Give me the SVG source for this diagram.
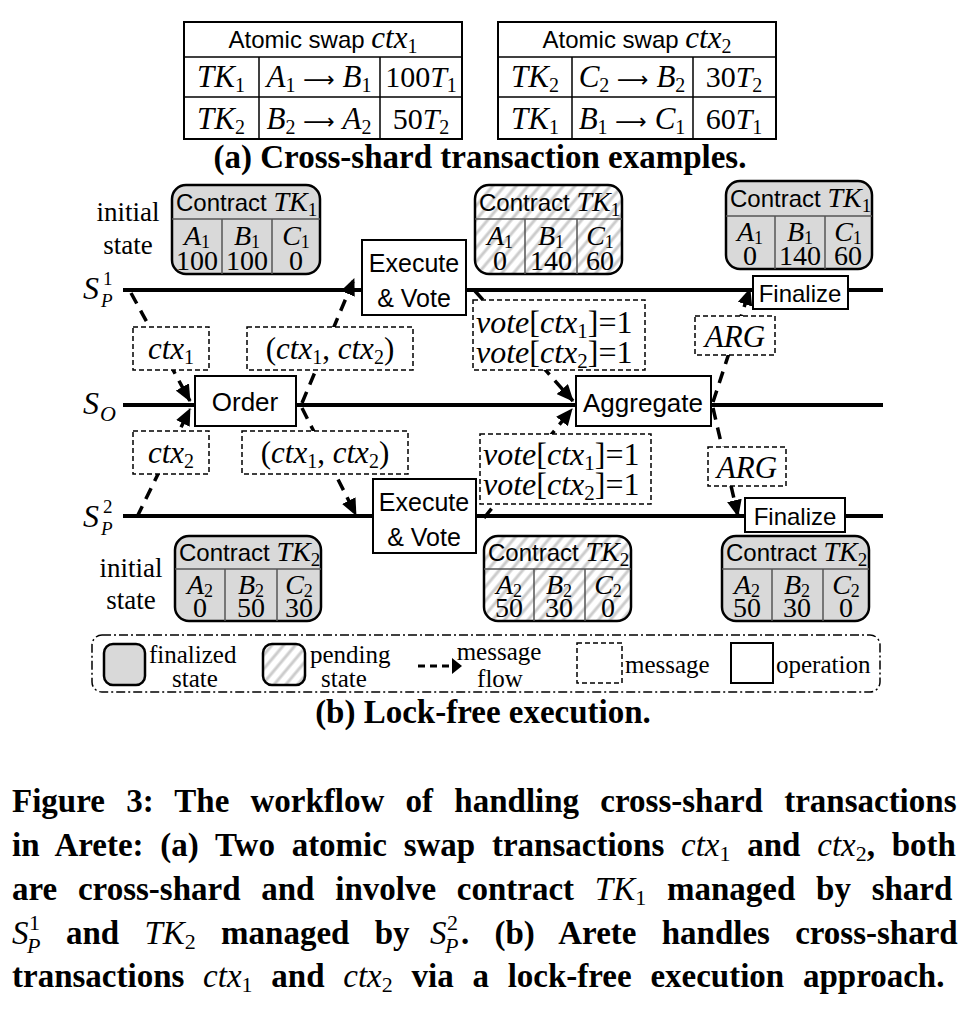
<svg xmlns="http://www.w3.org/2000/svg" width="978" height="1014" viewBox="0 0 978 1014">
<defs>
<pattern id="hatch" patternUnits="userSpaceOnUse" width="9" height="9" patternTransform="rotate(40)">
<rect width="9" height="9" fill="#ffffff"/>
<line x1="2" y1="0" x2="2" y2="9" stroke="#cccccc" stroke-width="3"/>
</pattern>
<marker id="arr" markerUnits="userSpaceOnUse" markerWidth="17" markerHeight="15" refX="16" refY="7.5" orient="auto">
<path d="M0,0 L17,7.5 L0,15 z" fill="#000"/>
</marker>
</defs>
<style>
.sans{font-family:"Liberation Sans",Arial,sans-serif;}
.serif{font-family:"Liberation Serif","Times New Roman",serif;}
.m{font-family:"Liberation Serif","Times New Roman",serif;font-style:italic;}
.up{font-family:"Liberation Serif","Times New Roman",serif;font-style:normal;}
.arrow{font-family:"DejaVu Sans",sans-serif;font-style:normal;}
.tbl{fill:#fff;stroke:#000;stroke-width:2;}
.grid{stroke:#000;stroke-width:1.5;fill:none;}
.fin{fill:#d9d9d9;stroke:#000;stroke-width:2.5;}
.pend{fill:url(#hatch);stroke:#000;stroke-width:2.5;}
.cdiv{stroke:#555;stroke-width:1.5;fill:none;}
.op{fill:#fff;stroke:#000;stroke-width:2;}
.msg{fill:#fff;stroke:#000;stroke-width:1.5;stroke-dasharray:5 3;}
.lane{stroke:#000;stroke-width:4;}
.flow{stroke:#000;stroke-width:3.5;stroke-dasharray:12 8;fill:none;marker-end:url(#arr);}
.cap{font-family:"Liberation Serif","Times New Roman",serif;font-weight:bold;font-size:33px;}
.capm{font-family:"Liberation Serif","Times New Roman",serif;font-style:italic;font-weight:normal;}
.capsub{font-family:"Liberation Serif","Times New Roman",serif;font-style:normal;font-weight:normal;font-size:22px;}
.lg{font-family:"Liberation Serif","Times New Roman",serif;font-size:25px;}
.cv{font-family:"Liberation Serif","Times New Roman",serif;font-size:28px;text-anchor:middle;}
.cl{font-family:"Liberation Serif","Times New Roman",serif;font-style:italic;font-size:28px;text-anchor:middle;}
</style>
<rect width="978" height="1014" fill="#fff"/>

<!-- Table ctx1 -->
<g id="table-ctx1">
<rect class="tbl" x="184" y="22" width="278" height="117"/>
<line class="grid" x1="184" y1="57" x2="462" y2="57"/>
<line class="grid" x1="184" y1="97" x2="462" y2="97"/>
<line class="grid" x1="259" y1="57" x2="259" y2="139"/>
<line class="grid" x1="380" y1="57" x2="380" y2="139"/>
<text x="323" y="48" text-anchor="middle" font-size="24" class="sans">Atomic swap <tspan class="m" font-size="31">ctx</tspan><tspan class="up" font-size="20" dy="5">1</tspan></text>
<text x="221" y="87" text-anchor="middle" font-size="31" class="m">TK<tspan class="up" font-size="20" dy="5">1</tspan></text>
<text x="319" y="87" text-anchor="middle" font-size="31" class="m">A<tspan class="up" font-size="20" dy="5">1</tspan><tspan class="up" dy="-5"> </tspan><tspan class="arrow" font-size="22">⟶</tspan><tspan class="up"> </tspan>B<tspan class="up" font-size="20" dy="5">1</tspan></text>
<text x="421" y="87" text-anchor="middle" font-size="30" class="up">100<tspan class="m">T</tspan><tspan font-size="20" dy="5">1</tspan></text>
<text x="221" y="129" text-anchor="middle" font-size="31" class="m">TK<tspan class="up" font-size="20" dy="5">2</tspan></text>
<text x="319" y="129" text-anchor="middle" font-size="31" class="m">B<tspan class="up" font-size="20" dy="5">2</tspan><tspan class="up" dy="-5"> </tspan><tspan class="arrow" font-size="22">⟶</tspan><tspan class="up"> </tspan>A<tspan class="up" font-size="20" dy="5">2</tspan></text>
<text x="421" y="129" text-anchor="middle" font-size="30" class="up">50<tspan class="m">T</tspan><tspan font-size="20" dy="5">2</tspan></text>
</g>

<!-- Table ctx2 -->
<g id="table-ctx2">
<rect class="tbl" x="498" y="22" width="278" height="117"/>
<line class="grid" x1="498" y1="57" x2="776" y2="57"/>
<line class="grid" x1="498" y1="97" x2="776" y2="97"/>
<line class="grid" x1="572" y1="57" x2="572" y2="139"/>
<line class="grid" x1="693" y1="57" x2="693" y2="139"/>
<text x="637" y="48" text-anchor="middle" font-size="24" class="sans">Atomic swap <tspan class="m" font-size="31">ctx</tspan><tspan class="up" font-size="20" dy="5">2</tspan></text>
<text x="535" y="87" text-anchor="middle" font-size="31" class="m">TK<tspan class="up" font-size="20" dy="5">2</tspan></text>
<text x="632" y="87" text-anchor="middle" font-size="31" class="m">C<tspan class="up" font-size="20" dy="5">2</tspan><tspan class="up" dy="-5"> </tspan><tspan class="arrow" font-size="22">⟶</tspan><tspan class="up"> </tspan>B<tspan class="up" font-size="20" dy="5">2</tspan></text>
<text x="734" y="87" text-anchor="middle" font-size="30" class="up">30<tspan class="m">T</tspan><tspan font-size="20" dy="5">2</tspan></text>
<text x="535" y="129" text-anchor="middle" font-size="31" class="m">TK<tspan class="up" font-size="20" dy="5">1</tspan></text>
<text x="632" y="129" text-anchor="middle" font-size="31" class="m">B<tspan class="up" font-size="20" dy="5">1</tspan><tspan class="up" dy="-5"> </tspan><tspan class="arrow" font-size="22">⟶</tspan><tspan class="up"> </tspan>C<tspan class="up" font-size="20" dy="5">1</tspan></text>
<text x="734" y="129" text-anchor="middle" font-size="30" class="up">60<tspan class="m">T</tspan><tspan font-size="20" dy="5">1</tspan></text>
</g>

<text id="caption-a" x="480" y="168" text-anchor="middle" class="cap" font-size="32">(a) Cross-shard transaction examples.</text>

<!-- Lanes -->
<g id="lanes">
<line class="lane" x1="123" y1="290" x2="883" y2="290"/>
<line class="lane" x1="123" y1="405" x2="883" y2="405"/>
<line class="lane" x1="123" y1="516" x2="883" y2="516"/>
<text x="83" y="299" font-size="32" class="m">S</text>
<text x="103" y="285" font-size="19" class="up">1</text>
<text x="101" y="307" font-size="19" class="m">P</text>
<text x="83" y="414" font-size="32" class="m">S</text>
<text x="100" y="421" font-size="22" class="m">O</text>
<text x="83" y="527" font-size="32" class="m">S</text>
<text x="103" y="513" font-size="19" class="up">2</text>
<text x="101" y="535" font-size="19" class="m">P</text>
<text x="128" y="221" text-anchor="middle" font-size="27" class="serif">initial</text>
<text x="128" y="254" text-anchor="middle" font-size="27" class="serif">state</text>
<text x="131" y="577" text-anchor="middle" font-size="27" class="serif">initial</text>
<text x="131" y="609" text-anchor="middle" font-size="27" class="serif">state</text>
</g>

<!-- Connectors -->
<g id="connectors">
<line class="flow" x1="131" y1="293" x2="190" y2="401"/>
<line class="flow" x1="137" y1="517" x2="190" y2="409"/>
<line class="flow" x1="302" y1="403" x2="354" y2="279"/>
<line class="flow" x1="302" y1="408" x2="356" y2="515"/>
<line class="flow" x1="475" y1="291" x2="573" y2="401"/>
<line class="flow" x1="484" y1="518" x2="572" y2="409"/>
<line class="flow" x1="713" y1="402" x2="750" y2="289"/>
<line class="flow" x1="713" y1="408" x2="738" y2="516"/>
</g>

<!-- Contract boxes -->
<g id="tk1-initial">
<rect class="fin" x="172" y="185" width="148" height="89" rx="14"/>
<line class="cdiv" x1="172" y1="219" x2="320" y2="219"/>
<line class="cdiv" x1="222" y1="219" x2="222" y2="274"/>
<line class="cdiv" x1="272" y1="219" x2="272" y2="274"/>
<text x="176" y="211" font-size="24" class="sans">Contract <tspan class="m" font-size="28">TK</tspan><tspan class="up" font-size="19" dy="5">1</tspan></text>
<text x="197" y="245" class="cl">A<tspan class="up" font-size="18" dy="3">1</tspan></text>
<text x="247" y="245" class="cl">B<tspan class="up" font-size="18" dy="3">1</tspan></text>
<text x="296" y="245" class="cl">C<tspan class="up" font-size="18" dy="3">1</tspan></text>
<text x="197" y="270" class="cv">100</text>
<text x="247" y="270" class="cv">100</text>
<text x="296" y="270" class="cv">0</text>
</g>

<g id="tk1-pending">
<rect class="pend" x="475" y="185" width="147" height="89" rx="14"/>
<line class="cdiv" x1="475" y1="219" x2="622" y2="219"/>
<line class="cdiv" x1="525" y1="219" x2="525" y2="274"/>
<line class="cdiv" x1="577" y1="219" x2="577" y2="274"/>
<text x="479" y="211" font-size="24" class="sans">Contract <tspan class="m" font-size="28">TK</tspan><tspan class="up" font-size="19" dy="5">1</tspan></text>
<text x="500" y="245" class="cl">A<tspan class="up" font-size="18" dy="3">1</tspan></text>
<text x="551" y="245" class="cl">B<tspan class="up" font-size="18" dy="3">1</tspan></text>
<text x="600" y="245" class="cl">C<tspan class="up" font-size="18" dy="3">1</tspan></text>
<text x="500" y="270" class="cv">0</text>
<text x="551" y="270" class="cv">140</text>
<text x="600" y="270" class="cv">60</text>
</g>

<g id="tk1-final">
<rect class="fin" x="726" y="181" width="146" height="88" rx="14"/>
<line class="cdiv" x1="726" y1="216" x2="872" y2="216"/>
<line class="cdiv" x1="775" y1="216" x2="775" y2="269"/>
<line class="cdiv" x1="825" y1="216" x2="825" y2="269"/>
<text x="730" y="207" font-size="24" class="sans">Contract <tspan class="m" font-size="28">TK</tspan><tspan class="up" font-size="19" dy="5">1</tspan></text>
<text x="750" y="241" class="cl">A<tspan class="up" font-size="18" dy="3">1</tspan></text>
<text x="800" y="241" class="cl">B<tspan class="up" font-size="18" dy="3">1</tspan></text>
<text x="848" y="241" class="cl">C<tspan class="up" font-size="18" dy="3">1</tspan></text>
<text x="750" y="265" class="cv">0</text>
<text x="800" y="265" class="cv">140</text>
<text x="848" y="265" class="cv">60</text>
</g>

<g id="tk2-initial">
<rect class="fin" x="175" y="536" width="146" height="85" rx="14"/>
<line class="cdiv" x1="175" y1="569" x2="321" y2="569"/>
<line class="cdiv" x1="225" y1="569" x2="225" y2="621"/>
<line class="cdiv" x1="277" y1="569" x2="277" y2="621"/>
<text x="179" y="561" font-size="24" class="sans">Contract <tspan class="m" font-size="28">TK</tspan><tspan class="up" font-size="19" dy="5">2</tspan></text>
<text x="200" y="594" class="cl">A<tspan class="up" font-size="18" dy="3">2</tspan></text>
<text x="251" y="594" class="cl">B<tspan class="up" font-size="18" dy="3">2</tspan></text>
<text x="299" y="594" class="cl">C<tspan class="up" font-size="18" dy="3">2</tspan></text>
<text x="200" y="617" class="cv">0</text>
<text x="251" y="617" class="cv">50</text>
<text x="299" y="617" class="cv">30</text>
</g>

<g id="tk2-pending">
<rect class="pend" x="484" y="536" width="147" height="85" rx="14"/>
<line class="cdiv" x1="484" y1="569" x2="631" y2="569"/>
<line class="cdiv" x1="534" y1="569" x2="534" y2="621"/>
<line class="cdiv" x1="585" y1="569" x2="585" y2="621"/>
<text x="488" y="561" font-size="24" class="sans">Contract <tspan class="m" font-size="28">TK</tspan><tspan class="up" font-size="19" dy="5">2</tspan></text>
<text x="509" y="594" class="cl">A<tspan class="up" font-size="18" dy="3">2</tspan></text>
<text x="559" y="594" class="cl">B<tspan class="up" font-size="18" dy="3">2</tspan></text>
<text x="608" y="594" class="cl">C<tspan class="up" font-size="18" dy="3">2</tspan></text>
<text x="509" y="617" class="cv">50</text>
<text x="559" y="617" class="cv">30</text>
<text x="608" y="617" class="cv">0</text>
</g>

<g id="tk2-final">
<rect class="fin" x="722" y="536" width="147" height="85" rx="14"/>
<line class="cdiv" x1="722" y1="569" x2="869" y2="569"/>
<line class="cdiv" x1="772" y1="569" x2="772" y2="621"/>
<line class="cdiv" x1="823" y1="569" x2="823" y2="621"/>
<text x="726" y="561" font-size="24" class="sans">Contract <tspan class="m" font-size="28">TK</tspan><tspan class="up" font-size="19" dy="5">2</tspan></text>
<text x="747" y="594" class="cl">A<tspan class="up" font-size="18" dy="3">2</tspan></text>
<text x="797" y="594" class="cl">B<tspan class="up" font-size="18" dy="3">2</tspan></text>
<text x="846" y="594" class="cl">C<tspan class="up" font-size="18" dy="3">2</tspan></text>
<text x="747" y="617" class="cv">50</text>
<text x="797" y="617" class="cv">30</text>
<text x="846" y="617" class="cv">0</text>
</g>

<!-- Operations -->
<g id="op-exec1">
<rect class="op" x="362" y="240" width="104" height="75"/>
<text x="414" y="272" text-anchor="middle" font-size="25" class="sans">Execute</text>
<text x="414" y="307" text-anchor="middle" font-size="25" class="sans">&amp; Vote</text>
</g>
<g id="op-order">
<rect class="op" x="195" y="376" width="101" height="50"/>
<text x="245" y="411" text-anchor="middle" font-size="26" class="sans">Order</text>
</g>
<g id="op-aggregate">
<rect class="op" x="576" y="376" width="135" height="50"/>
<text x="643" y="412" text-anchor="middle" font-size="26" class="sans">Aggregate</text>
</g>
<g id="op-exec2">
<rect class="op" x="373" y="479" width="103" height="74"/>
<text x="424" y="511" text-anchor="middle" font-size="25" class="sans">Execute</text>
<text x="424" y="546" text-anchor="middle" font-size="25" class="sans">&amp; Vote</text>
</g>
<g id="op-final1">
<rect class="op" x="753" y="276" width="95" height="33"/>
<text x="800" y="302" text-anchor="middle" font-size="24" class="sans">Finalize</text>
</g>
<g id="op-final2">
<rect class="op" x="745" y="498" width="100" height="34"/>
<text x="795" y="525" text-anchor="middle" font-size="24" class="sans">Finalize</text>
</g>

<!-- Messages -->
<g id="msg-ctx1">
<rect class="msg" x="133" y="327" width="76" height="43"/>
<text x="171" y="359" text-anchor="middle" font-size="31" class="m">ctx<tspan class="up" font-size="20" dy="5">1</tspan></text>
</g>
<g id="msg-pair1">
<rect class="msg" x="247" y="327" width="166" height="43"/>
<text x="330" y="359" text-anchor="middle" font-size="31" class="m"><tspan class="up">(</tspan>ctx<tspan class="up" font-size="20" dy="5">1</tspan><tspan class="up" dy="-5">, </tspan>ctx<tspan class="up" font-size="20" dy="5">2</tspan><tspan class="up" dy="-5">)</tspan></text>
</g>
<g id="msg-ctx2">
<rect class="msg" x="133" y="431" width="76" height="43"/>
<text x="171" y="463" text-anchor="middle" font-size="31" class="m">ctx<tspan class="up" font-size="20" dy="5">2</tspan></text>
</g>
<g id="msg-pair2">
<rect class="msg" x="242" y="431" width="166" height="43"/>
<text x="325" y="463" text-anchor="middle" font-size="31" class="m"><tspan class="up">(</tspan>ctx<tspan class="up" font-size="20" dy="5">1</tspan><tspan class="up" dy="-5">, </tspan>ctx<tspan class="up" font-size="20" dy="5">2</tspan><tspan class="up" dy="-5">)</tspan></text>
</g>
<g id="msg-vote1">
<rect class="msg" x="473" y="300" width="172" height="70"/>
<text x="476" y="333" font-size="32" class="m">vote<tspan class="up">[</tspan>ctx<tspan class="up" font-size="21" dy="5">1</tspan><tspan class="up" dy="-5">]=1</tspan></text>
<text x="476" y="363" font-size="32" class="m">vote<tspan class="up">[</tspan>ctx<tspan class="up" font-size="21" dy="5">2</tspan><tspan class="up" dy="-5">]=1</tspan></text>
</g>
<g id="msg-vote2">
<rect class="msg" x="480" y="434" width="171" height="70"/>
<text x="483" y="465" font-size="32" class="m">vote<tspan class="up">[</tspan>ctx<tspan class="up" font-size="21" dy="5">1</tspan><tspan class="up" dy="-5">]=1</tspan></text>
<text x="483" y="495" font-size="32" class="m">vote<tspan class="up">[</tspan>ctx<tspan class="up" font-size="21" dy="5">2</tspan><tspan class="up" dy="-5">]=1</tspan></text>
</g>
<g id="msg-arg1">
<rect class="msg" x="695" y="316" width="80" height="39"/>
<text x="735" y="347" text-anchor="middle" font-size="31" class="m">ARG</text>
</g>
<g id="msg-arg2">
<rect class="msg" x="708" y="447" width="78" height="39"/>
<text x="747" y="478" text-anchor="middle" font-size="31" class="m">ARG</text>
</g>

<!-- Legend -->
<g id="legend">
<rect x="92" y="635" width="788" height="57" rx="10" fill="none" stroke="#000" stroke-width="1.5" stroke-dasharray="9 3 2 3"/>
<rect class="fin" x="104" y="644" width="41" height="41" rx="9" stroke-width="1.5"/>
<text x="149" y="663" class="lg">finalized</text>
<text x="195" y="687" text-anchor="middle" class="lg">state</text>
<rect class="pend" x="263" y="644" width="42" height="41" rx="9" stroke-width="1.5"/>
<text x="310" y="663" class="lg">pending</text>
<text x="344" y="687" text-anchor="middle" class="lg">state</text>
<line x1="418" y1="666" x2="452" y2="666" stroke="#000" stroke-width="3" stroke-dasharray="7 5"/>
<path d="M452,658 L462,666 L452,674 z" fill="#000"/>
<text x="499" y="660" text-anchor="middle" class="lg">message</text>
<text x="500" y="687" text-anchor="middle" class="lg">flow</text>
<rect class="msg" x="577" y="643" width="45" height="40"/>
<text x="625" y="673" class="lg">message</text>
<rect class="op" x="731" y="643" width="42" height="40" stroke-width="1.5"/>
<text x="776" y="673" class="lg">operation</text>
</g>

<text id="caption-b" x="483" y="723" text-anchor="middle" class="cap" font-size="32">(b) Lock-free execution.</text>

<!-- Figure caption -->
<g id="figure-caption" class="cap">
<text x="12" y="812" word-spacing="13">Figure 3: The workflow of handling cross-shard transactions</text>
<text x="12" y="856" word-spacing="8.5">in Arete: (a) Two atomic swap transactions <tspan class="capm">ctx</tspan><tspan class="capsub" dy="5">1</tspan><tspan dy="-5"> and </tspan><tspan class="capm">ctx</tspan><tspan class="capsub" dy="5">2</tspan><tspan dy="-5">, both</tspan></text>
<text x="12" y="900" word-spacing="12.5">are cross-shard and involve contract <tspan class="capm">TK</tspan><tspan class="capsub" dy="5">1</tspan><tspan dy="-5"> managed by shard</tspan></text>
<text x="12" y="944" class="capm">S</text>
<text x="29" y="930" class="capsub">1</text>
<text x="27" y="953" class="capm" font-size="22">P</text>
<text x="66" y="944" word-spacing="17">and <tspan class="capm">TK</tspan><tspan class="capsub" dy="5">2</tspan><tspan dy="-5"> managed by</tspan></text>
<text x="430" y="944" class="capm">S</text>
<text x="447" y="930" class="capsub">2</text>
<text x="445" y="953" class="capm" font-size="22">P</text>
<text x="461" y="944" word-spacing="17">. (b) Arete handles cross-shard</text>
<text x="12" y="987" word-spacing="10.5">transactions <tspan class="capm">ctx</tspan><tspan class="capsub" dy="5">1</tspan><tspan dy="-5"> and </tspan><tspan class="capm">ctx</tspan><tspan class="capsub" dy="5">2</tspan><tspan dy="-5"> via a lock-free execution approach.</tspan></text>
</g>
</svg>
